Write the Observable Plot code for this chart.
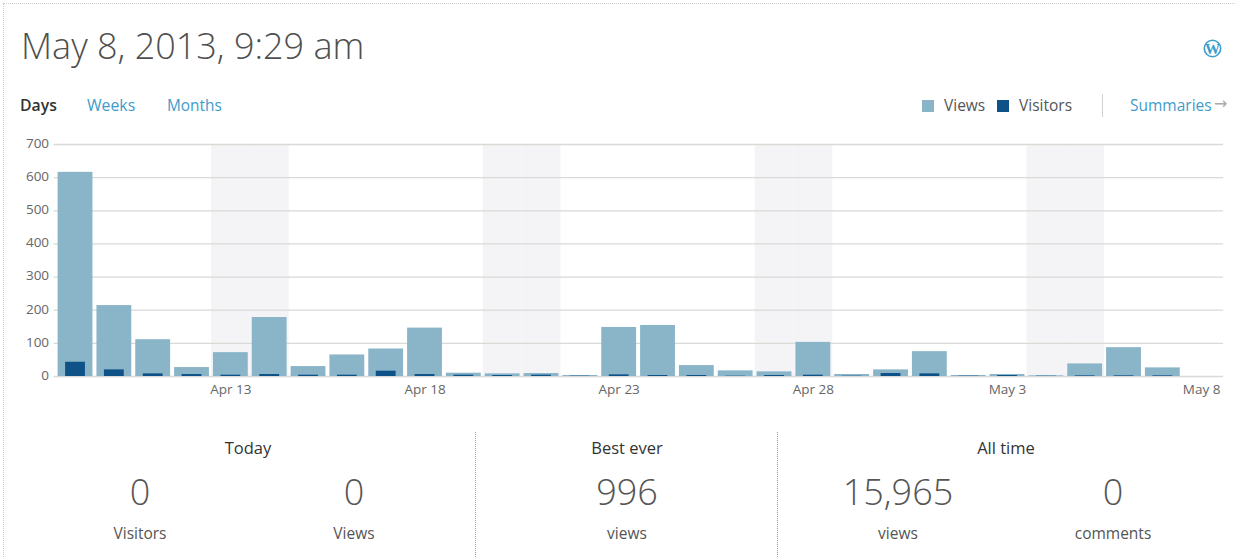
<!DOCTYPE html>
<html>
<head>
<meta charset="utf-8">
<script src="https://cdn.jsdelivr.net/npm/d3@7"></script>
<script src="https://cdn.jsdelivr.net/npm/@observablehq/plot@0.6"></script>
<style>
html,body{margin:0;padding:0;background:#fff;overflow:hidden}
#page{position:relative;width:1236px;height:557px;font-family:"Open Sans",sans-serif;color:#555}
#frame{position:absolute;left:3px;top:3px;width:1236px;height:560px;border:1px dotted #ccc;box-sizing:border-box}
#page div.t{position:absolute;white-space:nowrap}
.c{transform:translateX(-50%)}
.link{color:#3d9cc9}
.big{font-size:36px;font-weight:300;color:#555;line-height:44px}
.lab{font-size:15.5px;color:#555;line-height:20px}
.head{font-size:16.5px;color:#333;line-height:20px}
.sw{position:absolute;width:12px;height:12px}
.vr{position:absolute;border-left:1px dotted #999}
#chart{position:absolute;left:0;top:130px}
#chart svg{display:block}
</style>
</head>
<body>
<div id="page">
  <div id="frame"></div>
  <div class="t" style="left:21px;top:22px;font-size:36px;font-weight:300;color:#4f4f4f;line-height:48px">May 8, 2013, 9:29 am</div>
  <div class="t" style="left:20px;top:95px;font-size:15.8px;font-weight:600;color:#333;line-height:20px">Days</div>
  <div class="t link" style="left:87px;top:95px;font-size:15.8px;line-height:20px">Weeks</div>
  <div class="t link" style="left:167px;top:96px;font-size:15.4px;line-height:20px">Months</div>
  <svg style="position:absolute;left:1203px;top:39px" width="19" height="19"><circle cx="9.5" cy="9.5" r="8.2" fill="none" stroke="#3d9cc9" stroke-width="1.6"/><text x="9.5" y="14.5" text-anchor="middle" font-family="Liberation Serif" font-size="15" font-weight="700" fill="#3d9cc9">W</text></svg>
  <div class="sw" style="left:922px;top:100px;background:#8ab5c9"></div>
  <div class="t lab" style="left:944px;top:95px">Views</div>
  <div class="sw" style="left:997px;top:100px;background:#0f5288"></div>
  <div class="t lab" style="left:1019px;top:95px">Visitors</div>
  <div class="vr" style="left:1102px;top:94px;height:23px;border-left:1px solid #d5d0d8"></div>
  <div class="t link" style="left:1130px;top:95px;font-size:15.5px;line-height:20px">Summaries</div>
  <div class="t" style="left:1214px;top:91px;font-size:16px;line-height:26px;color:#aaa;font-family:'DejaVu Sans'">→</div>
  <div id="chart"></div>
  <div class="vr" style="left:475px;top:432px;height:125px"></div>
  <div class="vr" style="left:777px;top:432px;height:125px"></div>

  <div class="t head c" style="left:248px;top:438px">Today</div>
  <div class="t big c" style="left:140px;top:470px">0</div>
  <div class="t big c" style="left:354px;top:470px">0</div>
  <div class="t lab c" style="left:140px;top:523px">Visitors</div>
  <div class="t lab c" style="left:354px;top:523px">Views</div>

  <div class="t head c" style="left:627px;top:438px">Best ever</div>
  <div class="t big c" style="left:627px;top:470px">996</div>
  <div class="t lab c" style="left:627px;top:523px">views</div>

  <div class="t head c" style="left:1006px;top:438px">All time</div>
  <div class="t big c" style="left:898px;top:470px">15,965</div>
  <div class="t big c" style="left:1113px;top:470px">0</div>
  <div class="t lab c" style="left:898px;top:523px">views</div>
  <div class="t lab c" style="left:1113px;top:523px">comments</div>
</div>
<script>
const days = ["Apr 9","Apr 10","Apr 11","Apr 12","Apr 13","Apr 14","Apr 15","Apr 16","Apr 17","Apr 18",
  "Apr 19","Apr 20","Apr 21","Apr 22","Apr 23","Apr 24","Apr 25","Apr 26","Apr 27","Apr 28",
  "Apr 29","Apr 30","May 1","May 2","May 3","May 4","May 5","May 6","May 7","May 8"];
const views = [616,214,111,27,72,178,30,65,83,146,10,8,9,3,148,154,33,17,14,103,6,20,75,3,6,2,38,87,26,0];
const visitors = [43,20,8,6,4,6,4,4,16,6,4,3,4,1,5,3,3,1,3,4,1,9,8,1,3,1,2,2,2,0];
const weekendDays = ["Apr 13","Apr 14","Apr 20","Apr 21","Apr 27","Apr 28","May 4","May 5"];
const xTicks = ["Apr 13","Apr 18","Apr 23","Apr 28","May 3","May 8"];
const yTicks = [0,100,200,300,400,500,600,700];

const table = days.map((day,i)=>({day,views:views[i],visitors:visitors[i]}));

const chart = Plot.plot({
  width:1236, height:280,
  marginLeft:55.6, marginRight:15.4, marginTop:14, marginBottom:34,
  style:{fontFamily:"'Open Sans',sans-serif",fontSize:"13.5px",color:"#666",background:"transparent"},
  x:{type:"band",domain:days,padding:0,round:false,label:null},
  y:{domain:[0,700],label:null},
  marks:[
    Plot.barY(weekendDays,{x:d=>d,y1:0,y2:700,fill:"#f4f4f6"}),
    Plot.ruleY(yTicks,{stroke:"#d6dbd6",strokeWidth:1.3,insetLeft:-2,insetRight:-2.5}),
    Plot.barY(table,{x:"day",y:"views",fill:"#8ab5c9",insetLeft:2,insetRight:2}),
    Plot.barY(table,{x:"day",y:"visitors",fill:"#0f5288",insetLeft:9.5,insetRight:9.5}),
    Plot.axisY({ticks:yTicks,tickSize:0,tickPadding:7,label:null,dy:-1}),
    Plot.axisX({ticks:xTicks,tickSize:0,tickPadding:8,label:null})
  ]
});
document.getElementById("chart").appendChild(chart);
</script>
</body>
</html>
